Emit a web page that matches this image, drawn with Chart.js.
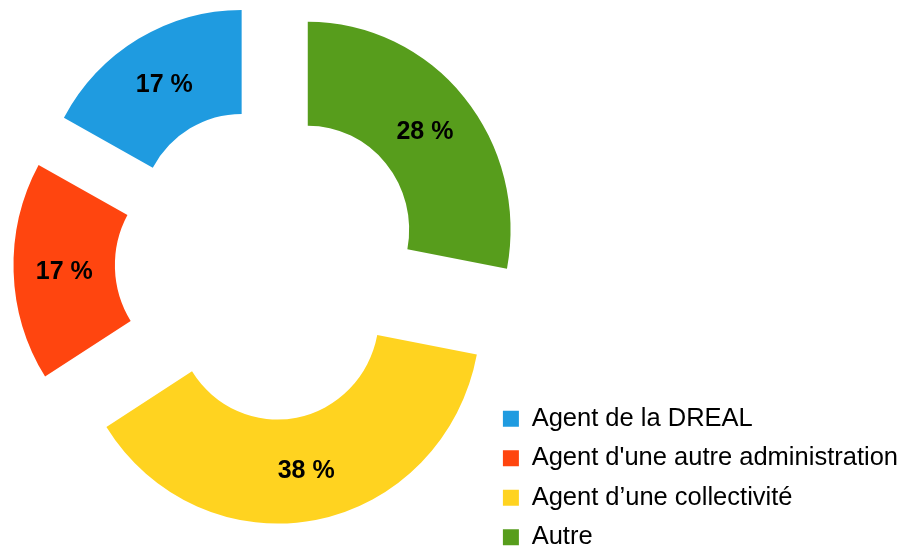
<!DOCTYPE html>
<html lang="fr">
<head>
<meta charset="utf-8">
<title>Répartition des répondants</title>
<script src="https://cdn.jsdelivr.net/npm/chart.js@4"></script>
<style>
    body { margin: 0; background: #fff; overflow: hidden; }
    /* canvas runs a little past the top and bottom of the window so the
       ring centre and the legend can both sit where they do in the original */
    #wrap { position: absolute; left: 0; top: -37px; width: 907px; height: 601px; }
</style>
</head>
<body>
<div id="wrap"><canvas id="chart"></canvas></div>
<script>
// clockwise from 12 o'clock; the legend shows them reversed
const categories = ['Autre', 'Agent d’une collectivité', "Agent d'une autre administration", 'Agent de la DREAL'];
const shares = [28, 38, 17, 17];
const colors = ['#579d1c', '#ffd320', '#ff450f', '#1f9be0'];

const EXPLODE = 53;    // distance each slice is pulled out
const X_SCALE = 0.975; // the original pie is slightly narrower than tall

Chart.defaults.font.family = '"Liberation Sans", Arial, sans-serif';

// push every slice out along its mid angle
const explode = {
    id: 'explode',
    afterDatasetUpdate(chart, args) {
        args.meta.data.forEach(arc => {
            const mid = (arc.startAngle + arc.endAngle) / 2;
            arc.x += Math.cos(mid) * EXPLODE;
            arc.y += Math.sin(mid) * EXPLODE;
        });
    }
};

// squash the ring horizontally, then write the percentages on top
const squash = {
    id: 'squash',
    beforeDatasetsDraw(chart) {
        const {ctx, chartArea} = chart;
        const cx = (chartArea.left + chartArea.right) / 2;
        ctx.save();
        ctx.translate(cx, 0);
        ctx.scale(X_SCALE, 1);
        ctx.translate(-cx, 0);
    },
    afterDatasetsDraw(chart) {
        const {ctx, chartArea} = chart;
        ctx.restore();
        const cx = (chartArea.left + chartArea.right) / 2;
        ctx.save();
        ctx.font = 'bold 25px "Liberation Sans", Arial, sans-serif';
        ctx.fillStyle = '#000';
        ctx.textAlign = 'center';
        ctx.textBaseline = 'middle';
        chart.getDatasetMeta(0).data.forEach((arc, i) => {
            const p = arc.getCenterPoint();
            ctx.fillText(shares[i] + ' %', cx + (p.x - cx) * X_SCALE, p.y + 2);
        });
        ctx.restore();
    }
};

new Chart(document.getElementById('chart'), {
    type: 'doughnut',
    data: {
        labels: categories,
        datasets: [{
            data: shares,
            backgroundColor: colors,
            borderWidth: 0,
            hoverOffset: 0,
            clip: false
        }]
    },
    options: {
        responsive: true,
        maintainAspectRatio: false,
        animation: false,
        cutout: '50%',
        radius: 208,
        layout: { padding: { left: 47, right: -1, top: 0, bottom: 0 } },
        plugins: {
            legend: {
                position: 'right',
                align: 'end',
                reverse: true,
                labels: {
                    boxWidth: 16,
                    boxHeight: 16,
                    padding: 14,
                    color: '#000',
                    font: { size: 25.5 }
                }
            },
            tooltip: { enabled: false }
        }
    },
    plugins: [explode, squash]
});
</script>
</body>
</html>
